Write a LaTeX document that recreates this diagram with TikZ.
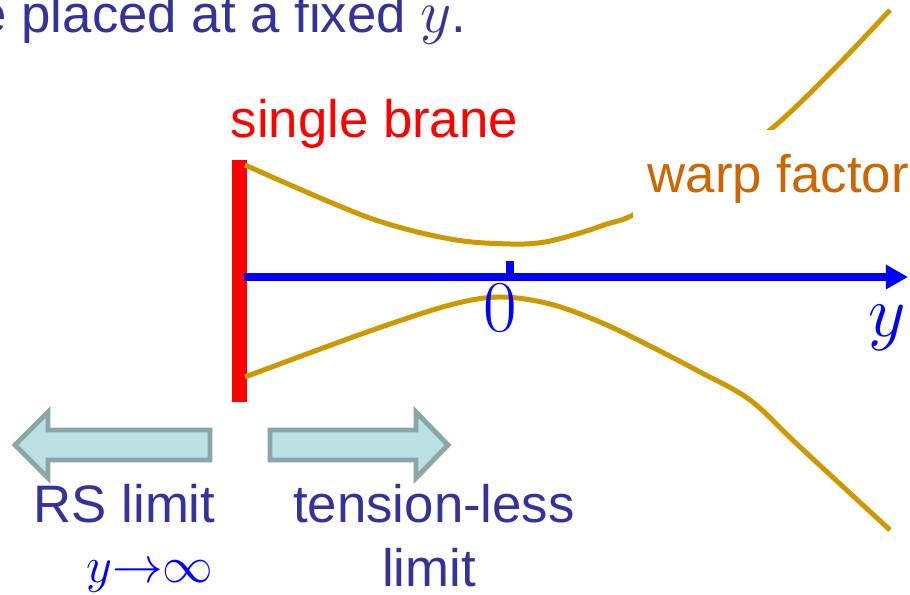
\documentclass[tikz,border=0pt]{standalone}
\usepackage[no-math]{fontspec}
\setmainfont{Liberation Sans}
\usetikzlibrary{arrows.meta}

\definecolor{txtblue}{RGB}{51,51,153}
\definecolor{warpgold}{RGB}{204,153,0}
\definecolor{warporange}{RGB}{204,102,0}
\definecolor{armfill}{RGB}{186,224,227}
\definecolor{armline}{RGB}{139,166,166}

\begin{document}
\begin{tikzpicture}[x=0.01cm,y=-0.01cm,
  txt/.style={font=\fontsize{15}{18}\selectfont,text=txtblue,inner sep=0pt},
  mathlbl/.style={font=\fontsize{19.5}{22}\selectfont,text=blue,inner sep=0pt},
  warp/.style={draw=warpgold,line width=1.42pt},
  blockarrow/.style={draw=armline,fill=armfill,line width=1.4pt,line join=miter}]
  \useasboundingbox (0,0) rectangle (910,595);
  \clip (0,0) rectangle (910,595);

  % brane and axis
  \fill[red] (232,160) rectangle (247,402);
  \draw[blue,line width=2.2pt,-{Triangle[length=6.3pt,width=6.6pt]}] (244,277) -- (908,277);
  \draw[blue,line width=2.2pt] (510,261) -- (510,277);

  % warp factor
  \draw[warp] plot[smooth,tension=0.55] coordinates {(245,165) (367,217) (450,239) (510,244)
    (545,242) (580,233) (607,224) (633,215) (700,178) (770,130) (833,70) (890,10)};
  \draw[warp] plot[smooth,tension=0.55] coordinates {(245,377) (367,332) (450,305) (500,297)
    (550,304) (600,322) (650,346) (700,372) (750,400) (800,447) (890,530)};

  \node[txt,anchor=base west] (caption) at (-23,33) {e placed at a fixed {\fontsize{17}{20}\selectfont$y$}.};
  \node[txt,text=red,anchor=base west] (branelabel) at (230,138) {single brane};
  \node[txt,text=warporange,fill=white,anchor=base west,inner xsep=0.15cm,inner ysep=0.15cm,
    text height=0.48cm,text depth=0.15cm] (warplabel) at (632,193) {warp factor};
  \node[mathlbl,anchor=base] (zero) at (500,332) {$0$};
  \node[mathlbl,anchor=base] (ylabel) at (887,337) {$y$};

  % the two limits
  \draw[blockarrow] (15,445) -- (48,412) -- (48,430) -- (210,430) -- (210,460)
    -- (48,460) -- (48,478) -- cycle;
  \draw[blockarrow] (448,445) -- (416,412) -- (416,430) -- (270,430) -- (270,460)
    -- (416,460) -- (416,478) -- cycle;
  \node[txt,anchor=base west] (rslimit) at (33,523) {RS limit};
  \node[font=\fontsize{15}{18}\selectfont,text=blue,inner sep=0pt,anchor=base east] (rsmath) at (214,582) {$y{\rightarrow}\infty$};
  \node[txt,anchor=base] (tension) at (434,523) {tension-less};
  \node[txt,anchor=base] (tensionlimit) at (429,587) {limit};
\end{tikzpicture}
\end{document}
